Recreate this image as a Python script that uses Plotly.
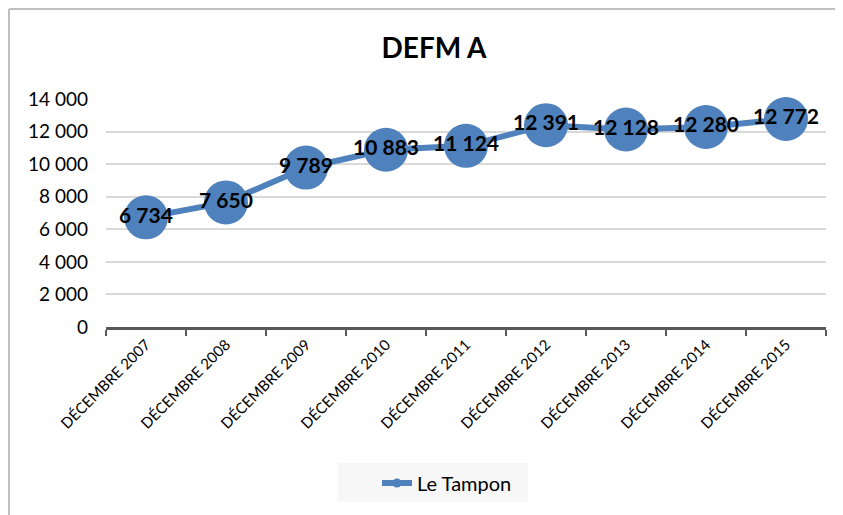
import plotly.graph_objects as go

categories = ["DÉCEMBRE 2007", "DÉCEMBRE 2008", "DÉCEMBRE 2009", "DÉCEMBRE 2010",
              "DÉCEMBRE 2011", "DÉCEMBRE 2012", "DÉCEMBRE 2013", "DÉCEMBRE 2014",
              "DÉCEMBRE 2015"]
values = [6734, 7650, 9789, 10883, 11124, 12391, 12128, 12280, 12772]
value_labels = ["6 734", "7 650", "9 789", "10 883", "11 124", "12 391", "12 128", "12 280", "12 772"]
y_tickvals = [0, 2000, 4000, 6000, 8000, 10000, 12000, 14000]
y_ticktext = ["0", "2 000", "4 000", "6 000", "8 000", "10 000", "12 000", "14 000"]
series_name = "Le Tampon"

FONT = "Lato"
BLUE = "#4f81bd"

# page body has an 8px margin; figure coords = screen coords - 8
L, T, PW, PH = 98, 91, 720, 228
W, H = 843, 515


def px_x(sx):
    return (sx - 8 - L) / PW


def px_y(sy):
    return 1 - (sy - 8 - T) / PH


fig = go.Figure()
fig.add_trace(go.Scatter(
    x=categories, y=values, name=series_name, showlegend=False,
    mode="lines+markers+text",
    line=dict(color=BLUE, width=6),
    marker=dict(size=44, color=BLUE),
    text=value_labels, textposition="middle center",
    textfont=dict(family=FONT, size=21, color="black", weight="bold"),
    cliponaxis=False,
))
# legend entry (small marker as in the reference)
fig.add_trace(go.Scatter(
    x=[None], y=[None], name=series_name, mode="lines+markers",
    line=dict(color=BLUE, width=6), marker=dict(size=9, color=BLUE),
))

fig.update_layout(
    width=W, height=H,
    margin=dict(l=L, r=W - L - PW, t=T, b=H - T - PH),
    paper_bgcolor="white", plot_bgcolor="white",
    title=dict(text="<b>DEFM A</b>", x=426 / W, xanchor="center",
               y=1 - 40 / H, yanchor="middle",
               font=dict(family=FONT, size=28, color="black")),
    showlegend=True,
    legend=dict(x=px_x(447), y=px_y(483), xanchor="center", yanchor="middle",
                orientation="h", bgcolor="rgba(0,0,0,0)",
                font=dict(family=FONT, size=20, color="black")),
    xaxis=dict(type="category", tickson="boundaries", ticks="outside",
               ticklen=6, tickwidth=2, tickcolor="#595959",
               showline=True, linecolor="#595959", linewidth=3,
               showgrid=False, tickangle=-45, automargin=False,
               tickfont=dict(family=FONT, size=15, color="black"),
               range=[-0.5, 8.5]),
    yaxis=dict(range=[0, 14000], tickvals=y_tickvals, ticktext=y_ticktext,
               showgrid=True, gridcolor="#d9d9d9", gridwidth=2,
               zeroline=False, showline=False, automargin=False,
               ticklabelstandoff=17,
               tickfont=dict(family=FONT, size=19, color="black")),
    shapes=[
        dict(type="line", xref="paper", yref="paper",
             x0=px_x(9), x1=1.2, y0=px_y(9), y1=px_y(9),
             line=dict(color="#c0c0c0", width=2)),
        dict(type="line", xref="paper", yref="paper",
             x0=px_x(9), x1=px_x(9), y0=px_y(9), y1=-1.0,
             line=dict(color="#c0c0c0", width=2)),
        dict(type="rect", xref="paper", yref="paper", layer="below",
             x0=px_x(338), x1=px_x(528), y0=px_y(463), y1=px_y(502),
             fillcolor="#f7f7f7", line=dict(width=0)),
    ],
)

fig.write_html("out.html")
